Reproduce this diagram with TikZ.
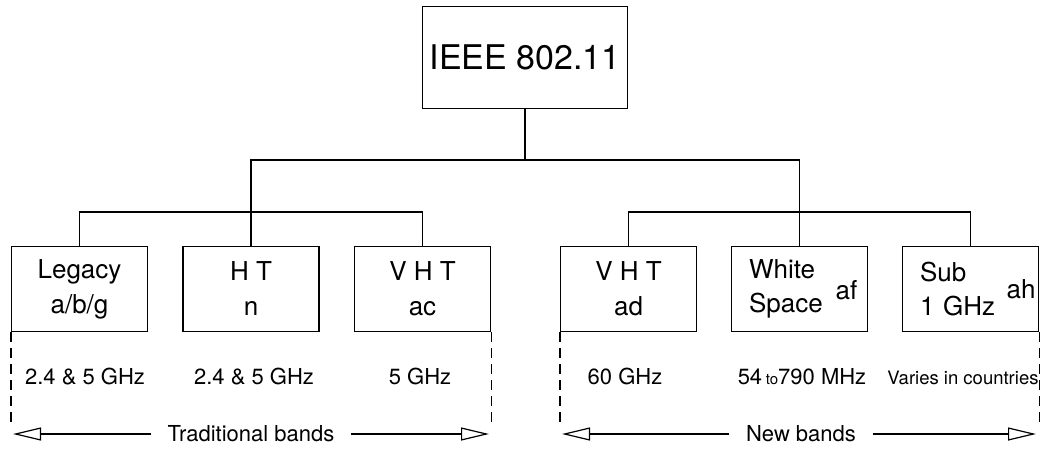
\documentclass[tikz,border=0pt]{standalone}
\usepackage{fontspec}
\setmainfont{TeX Gyre Heros}
\usetikzlibrary{arrows.meta,positioning}

\begin{document}
\begin{tikzpicture}[x=1pt, y=-1pt, line width=1.2pt, >={Triangle[open,length=28pt,width=13pt]},
every node/.style={inner sep=0pt},
box/.style={draw=black, minimum width=136pt, minimum height=85pt, align=center, font=\fontsize{26}{35}\selectfont},
leftbox/.style={box, text width=101pt, align=left, font=\fontsize{26}{34}\selectfont},
tag/.style={anchor=base west, font=\fontsize{26}{30}\selectfont},
freq/.style={anchor=base, font=\fontsize{22}{26}\selectfont},
band/.style={font=\fontsize{22}{26}\selectfont, inner xsep=16pt},
guide/.style={dash pattern=on 10pt off 6pt}]
\useasboundingbox (0,0) rectangle (1044,448);
% root
\node[box, minimum width=205pt, minimum height=102pt, font=\fontsize{34}{40}\selectfont] (ieee) at (525,57.5) {IEEE 802.11};
% traditional bands
\node[box] (legacy) at (79.5,289) {Legacy\\a/b/g};
\node[box] (ht) at (251,289) {H T\\n};
\node[box] (vhtac) at (422.5,289) {V H T\\ac};
% new bands
\node[box] (vhtad) at (628.5,289) {V H T\\ad};
\node[leftbox] (wspace) at (799.5,289) {White\\Space};
\node[tag] (afTag) at (835,299) {af};
\node[leftbox] (sub1g) at (970.5,289) {Sub\\1 GHz};
\node[tag] (ahTag) at (1006,298) {ah};
% tree
\coordinate (trunk) at (525,160);
\coordinate (tradHub) at (251,212);
\coordinate (newHub) at (799.5,212);
\draw (ieee.south) -- (trunk);
\draw (tradHub) -- (tradHub |- trunk) -- (newHub |- trunk) -- (newHub);
\draw (legacy.north) |- (tradHub) -| (vhtac.north);
\draw (ht.north) -- (tradHub);
\draw (vhtad.north) |- (newHub) -| (sub1g.north);
\draw (wspace.north) -- (newHub);
% frequencies
\node[freq] (fLegacy) at (85,384) {2.4 \& 5 GHz};
\node[freq] (fHt) at (254,384) {2.4 \& 5 GHz};
\node[freq] (fVhtac) at (420,384) {5 GHz};
\node[freq] (fVhtad) at (625,384) {60 GHz};
\node[freq] (fWspace) at (802,384) {54\,{\fontsize{15}{15}\selectfont to}790 MHz};
\node[freq, font=\fontsize{18.5}{22}\selectfont] (fSub) at (963,384) {Varies in countries};
% dashed guides
\coordinate (guideEnd) at (0,424);
\draw[guide] (legacy.south west) -- (legacy.south west |- guideEnd);
\draw[guide] (vhtac.south east) -- (vhtac.south east |- guideEnd);
\draw[guide] (vhtad.south west) -- (vhtad.south west |- guideEnd);
\draw[guide] (sub1g.south east) -- (sub1g.south east |- guideEnd);
% band arrows
\node[band] (tradTxt) at (251,434) {Traditional bands};
\coordinate (tradL) at (13,434);
\coordinate (tradR) at (489,434);
\draw[->] (tradTxt) -- (tradL);
\draw[->] (tradTxt) -- (tradR);
\node[band] (newTxt) at (801,434) {New bands};
\coordinate (newL) at (562,434);
\coordinate (newR) at (1036,434);
\draw[->] (newTxt) -- (newL);
\draw[->] (newTxt) -- (newR);
\end{tikzpicture}
\end{document}
